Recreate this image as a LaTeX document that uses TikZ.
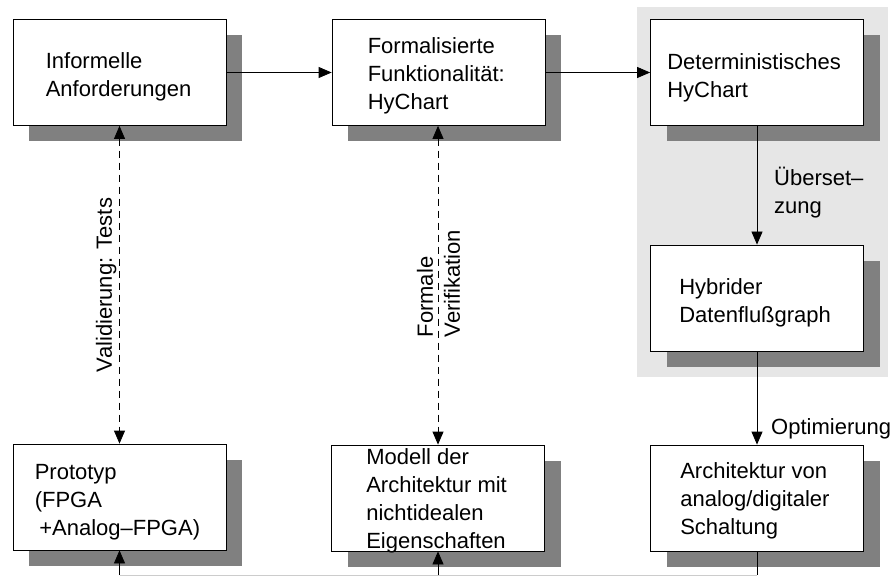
\documentclass[tikz,border=0pt]{standalone}
\usepackage{fontspec}
\setmainfont{Liberation Sans}
\usetikzlibrary{arrows.meta,shadows}
\definecolor{shadowgray}{HTML}{808080}
\definecolor{bggray}{HTML}{E6E6E6}
\definecolor{linegray}{HTML}{CCCCCC}
\tikzset{
  box/.style={draw=black, line width=0.8pt, fill=white, minimum width=213pt,
    minimum height=106pt, inner sep=0pt,
    copy shadow={shadow xshift=16pt, shadow yshift=-16pt, fill=shadowgray, draw=none}},
  txt/.style={font=\fontsize{22}{28}\selectfont, align=left, inner sep=0pt, anchor=west},
  lbl/.style={font=\fontsize{22}{28}\selectfont, align=left, inner sep=0pt},
  arr/.style={line width=0.8pt, -{Triangle[length=13pt,width=11pt]}},
  darr/.style={line width=0.8pt, dash pattern=on 7pt off 5pt,
    {Triangle[length=13pt,width=11pt]}-{Triangle[length=13pt,width=11pt]}},
}
\begin{document}
\begin{tikzpicture}[x=1pt,y=-1pt]
\useasboundingbox (0,0) rectangle (893,577);
\fill[bggray] (637,7) rectangle (888,377);

\node[box] (A) at (119.5,72.5) {};
\node[box] (B) at (438.5,72.5) {};
\node[box] (C) at (757,72.5) {};
\node[box] (D) at (757,298) {};
\node[box] (E) at (119.5,497) {};
\node[box] (F) at (438,498) {};
\node[box] (G) at (757,498) {};

\node[txt] (At) at ([xshift=33pt,yshift=-4.7pt]A.west) {Informelle\\Anforderungen};
\node[txt] (Bt) at ([xshift=36pt,yshift=-3.8pt]B.west) {Formalisierte\\Funktionalität:\\HyChart};
\node[txt] (Ct) at ([xshift=17pt,yshift=-5.7pt]C.west) {Deterministisches\\HyChart};
\node[txt] (Dt) at ([xshift=29pt,yshift=-4.8pt]D.west) {Hybrider\\Datenflußgraph};
\node[txt] (Et) at ([xshift=22pt,yshift=-5.3pt]E.west) {Prototyp\\(FPGA\\\hspace*{4.5pt}+Analog–FPGA)};
\node[txt] (Ft) at ([xshift=35pt,yshift=-2.6pt]F.west) {Modell der\\Architektur mit\\nichtidealen\\Eigenschaften};
\node[txt] (Gt) at ([xshift=30pt,yshift=-3pt]G.west) {Architektur von\\analog/digitaler\\Schaltung};

\draw[arr] (A.east) -- (B.west);
\draw[arr] (B.east) -- (C.west);
\draw[arr] (C.south) -- (D.north);
\draw[arr] (D.south) -- (G.north);
\draw[darr] (A.south) -- (E.north);
\draw[darr] (F.north |- B.south) -- (F.north);

\coordinate (gb) at (757,575);
\coordinate (eb) at (119.5,575);
\coordinate (fb) at (438,575);
\draw[linegray, line width=0.8pt] (eb) -- (gb);
\draw[line width=0.8pt] (G.south) -- (gb);
\draw[arr] (eb) -- (E.south);
\draw[arr] (fb) -- (F.south);

\node[lbl, rotate=90] (val) at (106.3,285) {Validierung: Tests};
\node[lbl, rotate=90, font=\fontsize{22}{27}\selectfont] (ver) at (438.5,283.6) {Formale\\Verifikation};
\node[lbl, anchor=west] (ueb) at (774,193) {Überset–\\zung};
\node[lbl, anchor=west] (opt) at (771,428.5) {Optimierung};
\end{tikzpicture}
\end{document}
